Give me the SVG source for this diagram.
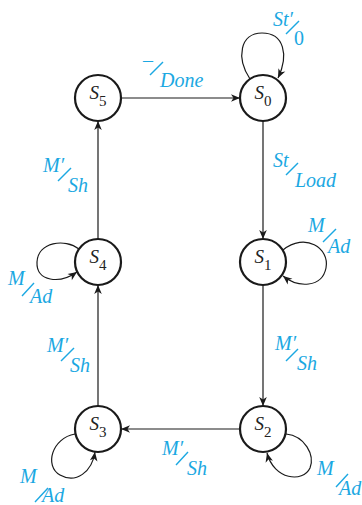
<svg xmlns="http://www.w3.org/2000/svg" width="362" height="505" viewBox="0 0 362 505">
<style>
.node circle{fill:#fff;stroke:#1a1a1a;stroke-width:2.2}
.nl{font-family:"Liberation Serif","Times New Roman",serif;font-style:italic;font-size:19px;fill:#222;text-anchor:middle}
.sub{font-style:normal;font-size:15px}
.edge{fill:none;stroke:#1a1a1a;stroke-width:1.2;marker-end:url(#ah)}
.lbl{font-family:"Liberation Serif","Times New Roman",serif;font-style:italic;font-size:20px;fill:#1ba8e2}
.up{font-style:normal}
.sl{stroke:#1ba8e2;stroke-width:1.4}
</style>
<defs>
<marker id="ah" markerUnits="userSpaceOnUse" markerWidth="12" markerHeight="10" viewBox="-10 -5 12 10" refX="0" refY="0" orient="auto">
<path d="M0,0 L-9,-3.8 L-6.5,0 L-9,3.8 z" fill="#1a1a1a"/>
</marker>
</defs>
<g id="connectors">
<path class="edge" d="M121,98 H240"/>
<path class="edge" d="M263,121 V239"/>
<path class="edge" d="M263,285 V406"/>
<path class="edge" d="M240,429 H121"/>
<path class="edge" d="M98,406 V285"/>
<path class="edge" d="M98,239 V121"/>
<path class="edge" d="M250,79 C236,58 240,33 262,33 C284,33 289,55 278,78"/>
<path class="edge" d="M283,250 C305,232 330,248 326,268 C322,288 298,288 283,276"/>
<path class="edge" d="M286,434 C305,436 315,455 310,468 C303,483 274,480 267,453"/>
<path class="edge" d="M75,434 C52,438 44,466 60,475 C76,484 92,472 95,452"/>
<path class="edge" d="M79,249 C65,238 38,242 37,262 C36,282 60,284 77,272"/>
</g>
<g id="labels">
<text class="lbl" x="273" y="26">St′</text><line class="sl" x1="286" y1="34" x2="299" y2="21"/><text class="lbl up" x="294" y="45">0</text>
<text class="lbl up" x="143" y="67">–</text><line class="sl" x1="150" y1="75" x2="163" y2="62"/><text class="lbl" x="160" y="87">Done</text>
<text class="lbl" x="273" y="167">St</text><line class="sl" x1="286" y1="175" x2="298" y2="163"/><text class="lbl" x="295" y="187">Load</text>
<text class="lbl" x="308" y="232">M</text><line class="sl" x1="323" y1="242" x2="336" y2="229"/><text class="lbl" x="328" y="253">Ad</text>
<text class="lbl" x="275" y="350">M′</text><line class="sl" x1="286" y1="361" x2="298" y2="349"/><text class="lbl" x="297" y="370">Sh</text>
<text class="lbl" x="317" y="475">M</text><line class="sl" x1="336" y1="487" x2="348" y2="474"/><text class="lbl" x="339" y="495">Ad</text>
<text class="lbl" x="162" y="455">M′</text><line class="sl" x1="176" y1="465" x2="188" y2="452"/><text class="lbl" x="187" y="475">Sh</text>
<text class="lbl" x="20" y="483">M</text><line class="sl" x1="35" y1="502" x2="48" y2="488"/><text class="lbl" x="42" y="502">Ad</text>
<text class="lbl" x="47" y="352">M′</text><line class="sl" x1="61" y1="361" x2="74" y2="348"/><text class="lbl" x="70" y="372">Sh</text>
<text class="lbl" x="8" y="285">M</text><line class="sl" x1="22" y1="296" x2="34" y2="283"/><text class="lbl" x="30" y="303">Ad</text>
<text class="lbl" x="43" y="172">M′</text><line class="sl" x1="58" y1="181" x2="71" y2="168"/><text class="lbl" x="68" y="192">Sh</text>
</g>
<g id="S0" class="node"><circle cx="263" cy="98" r="23"/><text class="nl" x="263" y="99">S<tspan class="sub" dy="7">0</tspan></text></g>
<g id="S1" class="node"><circle cx="263" cy="262" r="23"/><text class="nl" x="263" y="263">S<tspan class="sub" dy="7">1</tspan></text></g>
<g id="S2" class="node"><circle cx="263" cy="429" r="23"/><text class="nl" x="263" y="430">S<tspan class="sub" dy="7">2</tspan></text></g>
<g id="S3" class="node"><circle cx="98" cy="429" r="23"/><text class="nl" x="98" y="430">S<tspan class="sub" dy="7">3</tspan></text></g>
<g id="S4" class="node"><circle cx="98" cy="262" r="23"/><text class="nl" x="98" y="263">S<tspan class="sub" dy="7">4</tspan></text></g>
<g id="S5" class="node"><circle cx="98" cy="98" r="23"/><text class="nl" x="98" y="99">S<tspan class="sub" dy="7">5</tspan></text></g>
</svg>
